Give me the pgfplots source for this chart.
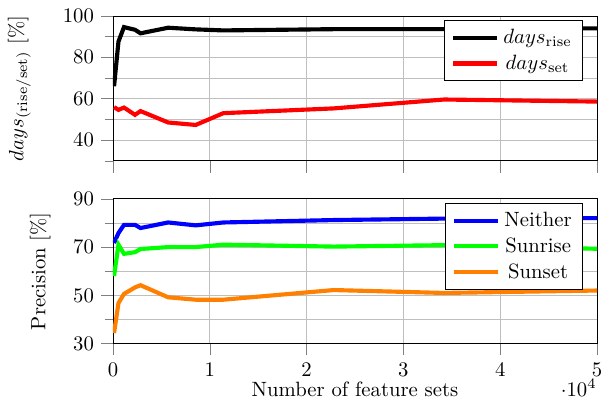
\documentclass[border=0pt]{standalone}
\usepackage{pgfplots}
\pgfplotsset{compat=1.18}
\pgfplotsset{
  common/.style={
    width=234pt, height=70pt, scale only axis,
    xmin=0, xmax=50000,
    xtick={0,10000,20000,30000,40000,50000},
    grid=both,
    tick align=outside,
    tick pos=left,
    tick style={gray},
    major tick length=0.2cm,
    minor tick length=0.13cm,
    every axis plot/.append style={line width=2pt},
    legend pos=north east,
    legend cell align=center,
    legend image code/.code={\draw[#1] (0cm,0cm) -- (0.75cm,0cm);},
  }
}
\begin{document}
\begin{tikzpicture}
\begin{axis}[common,
  ymin=30, ymax=100,
  ytick={40,60,80,100},
  minor ytick={30,50,70,90},
  scaled x ticks=false,
  xticklabels={},
  ylabel={$days_{(\mathrm{rise/set})}$ [\%]},
  ylabel style={at={(axis description cs:-0.1547,0.5)}, anchor=south},
]
\addplot[black] coordinates {
(114,66) (570,87.6) (1140,94.6) (2280,93.3) (2850,91.6) (5700,94.3) (8550,93.5) (11400,93.0) (22800,93.6) (34200,93.6) (50000,94.0)};
\addlegendentry{$days_{\mathrm{rise}}$}
\addplot[red] coordinates {
(114,55.9) (570,54.6) (1140,55.7) (2280,52.2) (2850,54.0) (5700,48.5) (8550,47.3) (11400,53.0) (22800,55.3) (34200,59.6) (50000,58.6)};
\addlegendentry{$days_{\mathrm{set}}$}
\coordinate (TNE) at (rel axis cs:1,1);
\end{axis}
\begin{axis}[common,
  at={(0pt,-88.4pt)},
  ymin=30, ymax=90,
  ytick={30,50,70,90},
  minor ytick={40,60,80},
  ylabel={Precision [\%]},
  ylabel style={at={(axis description cs:-0.1136,0.5)}, anchor=south},
  xlabel={Number of feature sets},
  xlabel style={yshift=4.2pt},
  every x tick scale label/.style={at={(rel axis cs:1,0)}, anchor=north east, yshift=-17pt, inner sep=0pt},
]
\addplot[blue] coordinates {
(114,71.7) (570,75.8) (1140,79.2) (2280,79.2) (2850,77.9) (5700,80.2) (8550,79.0) (11400,80.2) (22800,81.2) (34200,81.8) (50000,82.0)};
\addlegendentry{Neither}
\addplot[green] coordinates {
(114,58.0) (570,71.0) (1140,67.2) (2280,67.9) (2850,69.2) (5700,70.0) (8550,70.0) (11400,71.0) (22800,70.2) (34200,70.8) (50000,69.3)};
\addlegendentry{Sunrise}
\addplot[orange] coordinates {
(114,34.4) (570,46.8) (1140,50.6) (2280,53.3) (2850,54.2) (5700,49.2) (8550,48.2) (11400,48.2) (22800,52.2) (34200,51.0) (50000,52.0)};
\addlegendentry{Sunset}
\coordinate (BSW) at (rel axis cs:0,0);
\end{axis}
\pgfresetboundingbox
\path[use as bounding box] ([shift={(-54.6pt,-28pt)}]BSW) rectangle ([shift={(2.4pt,7.7pt)}]TNE);
\end{tikzpicture}
\end{document}
